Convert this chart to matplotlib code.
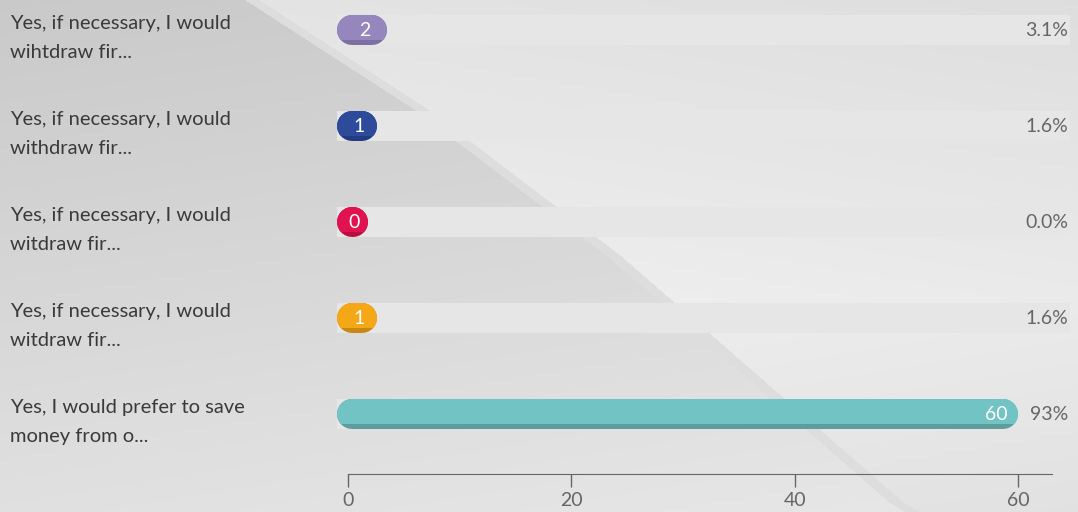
import numpy as np
import matplotlib
matplotlib.use('Agg')
import matplotlib.pyplot as plt
from matplotlib.path import Path
from matplotlib.patches import Rectangle

labels = ['Yes, if necessary, I would\nwihtdraw fir...',
          'Yes, if necessary, I would\nwithdraw fir...',
          'Yes, if necessary, I would\nwitdraw fir...',
          'Yes, if necessary, I would\nwitdraw fir...',
          'Yes, I would prefer to save\nmoney from o...']
counts = [2, 1, 0, 1, 60]
percents = ['3.1%', '1.6%', '0.0%', '1.6%', '93%']
colors = ['#9587bd', '#2e4a9a', '#e0124f', '#f5a817', '#72c4c4']
shades = ['#7d6fa3', '#233b80', '#b80e40', '#c98812', '#5e9d9d']
xticks = [0, 20, 40, 60]

W, H = 1078, 512
fig = plt.figure(figsize=(W / 100, H / 100), dpi=100)

# background: soft grey gradient with a lighter diagonal panel on the right
bg = fig.add_axes([0, 0, 1, 1])
yy, xx = np.mgrid[0:H, 0:W]
pts = np.c_[xx.ravel() + 0.5, yy.ravel() + 0.5]
base = 0.79 + 0.09 * (yy / H) + 0.03 * (xx / W)
edge = [(245, 0), (415, 110), (607, 256), (890, 503), (905, 512)]
panel = Path(edge + [(W, 512), (W, 0)])
rim = Path([(x + 14, y) for x, y in edge] + [(W, 512), (W, 0)])
inside = panel.contains_points(pts).reshape(H, W)
inner = rim.contains_points(pts).reshape(H, W)
light = 0.90 + 0.05 * np.clip(1 - np.abs(yy - 300) / 300, 0, 1) - 0.03 * (xx / W)
img = np.where(inside, np.where(inner, light, 0.87), base)
img = np.clip(img, 0, 1)
bg.imshow(np.dstack([img] * 3), extent=(0, W, H, 0), aspect='auto')
bg.set_xlim(0, W)
bg.set_ylim(H, 0)
bg.axis('off')

# plotting area in pixel-matched data units
x0_px, ppu = 348, 11.17
xmin = -(x0_px - 337) / ppu
xmax = (W - x0_px) / ppu
ax = fig.add_axes([337 / W, 0, (W - 337) / W, 1])
ax.patch.set_alpha(0)
ax.set_xlim(xmin, xmax)
ax.set_ylim((H - 30) / 96, -30 / 96)

bar_h = 30 / 96
lw_pt = 30 * 72 / 100
for i, (c, col, sh) in enumerate(zip(counts, colors, shades)):
    # grey track
    ax.barh(i, 64.6 - xmin, left=xmin, height=bar_h, color='#e6e6e6', zorder=1)
    # value pill with round caps and a darker lower edge
    x_left = 0.36
    x_right = max(c - 1.35, x_left + 0.9 * c, x_left + 0.05)
    ax.plot([x_left, x_right], [i, i], color=sh, lw=lw_pt,
            solid_capstyle='round', zorder=2)
    top, = ax.plot([x_left, x_right], [i, i], color=col, lw=lw_pt,
                   solid_capstyle='round', zorder=3)
    clip = Rectangle((xmin, i - 0.5), xmax - xmin, 0.5 + 10 / 96,
                     transform=ax.transData)
    top.set_clip_path(clip)
    if c >= 10:
        ax.text(x_right + 0.4, i, str(c), ha='right', va='center',
                color='white', fontsize=14, family='Lato', zorder=4)
    else:
        ax.text((x_left + x_right) / 2 + 0.2, i, str(c), ha='center',
                va='center', color='white', fontsize=14, family='Lato',
                zorder=4)
    ax.text((1068 - x0_px) / ppu, i, percents[i], ha='right', va='center',
            color='#666666', fontsize=14, family='Lato', zorder=4)
    fig.text(10 / W, 1 - (38 + 96 * i) / H, labels[i], ha='left',
             va='center', color='#3a3a3a', fontsize=14.5, family='Lato',
             linespacing=1.8)

for s in ['top', 'right', 'left']:
    ax.spines[s].set_visible(False)
ax.spines['bottom'].set_position(('data', (474 - 30) / 96))
ax.spines['bottom'].set_bounds(0, (1052 - x0_px) / ppu)
ax.spines['bottom'].set_color('#666666')
ax.set_yticks([])
ax.set_xticks(xticks)
ax.tick_params(axis='x', direction='out', length=9, width=1, color='#666666',
               labelcolor='#666666', labelsize=14, pad=4)
for t in ax.get_xticklabels():
    t.set_family('Lato')

fig.savefig('out.png', dpi=100)
